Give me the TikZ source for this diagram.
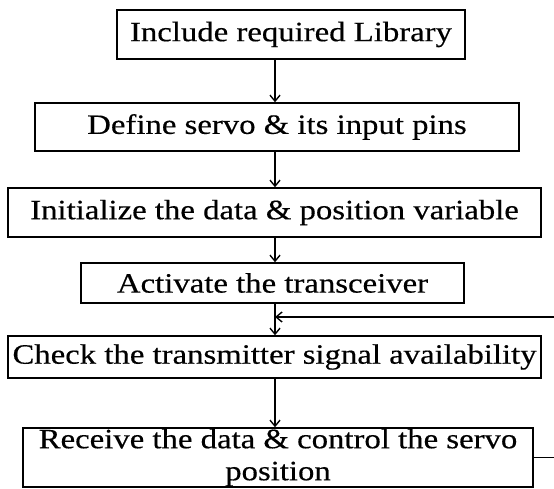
\documentclass[tikz,border=0pt]{standalone}
\usepackage{fontspec}
\setmainfont{Liberation Serif}
\newfontfamily\stepfont[FakeStretch=1.17,FakeBold=0.4]{Liberation Serif}
\usetikzlibrary{arrows.meta}

\begin{document}
\begin{tikzpicture}[x=1bp,y=-1bp,
    stepbox/.style={draw, line width=1.5bp, inner sep=0pt, align=center,
        font=\stepfont\fontsize{28bp}{30bp}\selectfont},
    flow/.style={line width=1.4bp,
        -{Straight Barb[length=6bp,width=10bp,line width=1.4bp]}}]
    \useasboundingbox (0,0) rectangle (554,489);

    % the six steps, top to bottom
    \node[stepbox, minimum width=348bp, minimum height=49bp] (lib) at (291,34.5) {Include required Library};
    \node[stepbox, minimum width=484bp, minimum height=48bp] (servo) at (277,127) {Define servo \& its input pins};
    \node[stepbox, minimum width=533bp, minimum height=49bp] (init) at (274.5,212.5) {Initialize the data \& position variable};
    \node[stepbox, minimum width=383bp, minimum height=40bp] (radio) at (272.5,283) {Activate the transceiver};
    \node[stepbox, minimum width=533bp, minimum height=42bp] (check) at (274.5,357) {Check the transmitter signal availability};
    \node[stepbox, minimum width=510bp, minimum height=59bp] (recv) at (278,457.5) {\raisebox{-2bp}{Receive the data \& control the servo}\\\raisebox{-4bp}{position}};

    % main flow
    \coordinate (spine) at (275,0);
    \draw[flow] (lib.south -| spine) -- (servo.north -| spine);
    \draw[flow] (servo.south -| spine) -- (init.north -| spine);
    \draw[flow] (init.south -| spine) -- (radio.north -| spine);
    \draw[flow] (radio.south -| spine) -- (check.north -| spine);
    \draw[flow] (check.south -| spine) -- (recv.north -| spine);

    % loop back to the signal check
    \coordinate (loop) at (560,317);
    \draw[flow] (recv.east) -- (recv.east -| loop) -- (loop) -- (loop -| spine);
\end{tikzpicture}
\end{document}
